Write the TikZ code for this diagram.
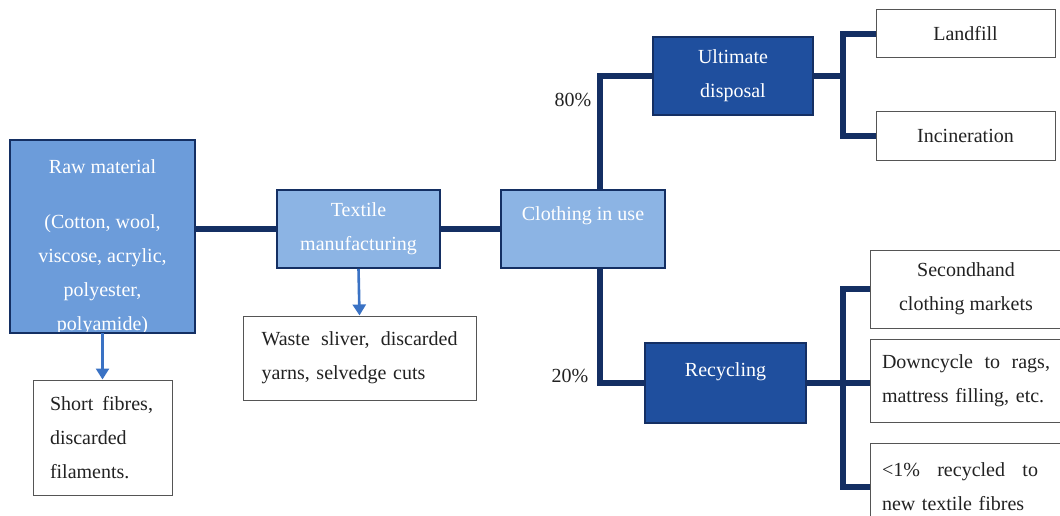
\documentclass[tikz,border=0pt]{standalone}
\usepackage{fontspec}
\setmainfont{Liberation Serif}
\usetikzlibrary{arrows.meta}
\definecolor{navy}{HTML}{142F63}
\definecolor{dkfill}{HTML}{1F4F9E}
\definecolor{ltfill}{HTML}{8CB4E4}
\definecolor{rawfill}{HTML}{6C9CDA}
\definecolor{arrowblue}{HTML}{3A72C4}
\definecolor{boxgray}{HTML}{555555}
\definecolor{txt}{HTML}{222222}
\newcommand{\spreadline}[2]{\hbox to #1{#2}}
\begin{document}
\begin{tikzpicture}[x=1pt,y=-1pt,
  every node/.style={font=\fontsize{20}{34}\selectfont, inner sep=0pt},
  bluebox/.style={draw=navy, line width=1.6pt, text=white, align=center},
  darkbox/.style={bluebox, fill=dkfill},
  lightbox/.style={bluebox, fill=ltfill},
  rawbox/.style={fill=rawfill},
  whitebox/.style={draw=boxgray, line width=1pt, fill=white, text=txt},
  conn/.style={draw=navy, line width=6pt, line join=miter},
  wastearrow/.style={draw=arrowblue, line width=2.6pt, -{Triangle[width=13pt,length=11pt]}},
  pct/.style={text=txt}]
\useasboundingbox (0,0) rectangle (1060,516);
% blue process boxes
\node[rawbox, minimum width=185pt, minimum height=193pt] (raw) at (102.5,236.5) {};
\begin{scope}
\clip ([xshift=0.8pt,yshift=0.8pt]raw.south west) rectangle ([xshift=-0.8pt,yshift=-0.8pt]raw.north east);
\node[text=white, align=center] (rawtext) at (102.5,247) {Raw material\\[21pt](Cotton, wool,\\viscose, acrylic,\\polyester,\\polyamide)};
\end{scope}
\draw[draw=navy, line width=1.6pt] (raw.south west) rectangle (raw.north east);
\node[lightbox, minimum width=163pt, minimum height=78pt] (tex) at (358.5,229) {Textile\\manufacturing};
\node[lightbox, minimum width=164pt, minimum height=78pt, text height=14pt, text depth=32pt] (cloth) at (583,229) {Clothing in use};
\node[darkbox, minimum width=160pt, minimum height=78pt] (ult) at (733,76) {Ultimate\\disposal};
\node[darkbox, minimum width=161pt, minimum height=80pt, text height=14pt, text depth=28pt] (rec) at (725.5,383) {Recycling};
% white outcome boxes
\node[whitebox, minimum width=139pt, minimum height=115pt, text width=105pt, align=left] (short) at (102.5,437.5) {\spreadline{103pt}{Short\hfill fibres,}\\discarded\\filaments.};
\node[whitebox, minimum width=233pt, minimum height=84pt, text width=196pt, align=left] (waste) at (359.5,358) {\spreadline{196pt}{Waste\hfill sliver,\hfill discarded}\\yarns, selvedge cuts};
\node[whitebox, minimum width=179pt, minimum height=48pt] (land) at (965.5,34) {Landfill};
\node[whitebox, minimum width=179pt, minimum height=48pt] (inc) at (965.5,136) {Incineration};
\node[whitebox, minimum width=192pt, minimum height=78pt, align=center] (second) at (966,289) {Secondhand\\clothing markets};
\node[whitebox, minimum width=192pt, minimum height=83pt, text width=168pt, align=left] (down) at (966,380.5) {\spreadline{168pt}{Downcycle\hfill to\hfill rags,}\\mattress filling, etc.};
\node[whitebox, minimum width=192pt, minimum height=88pt, text width=168pt, align=left] (third) at (966,487) {\spreadline{156pt}{<1\%\hfill recycled\hfill to}\\new textile fibres};
% percentages
\node[pct] (p80) at (573,100) {80\%};
\node[pct] (p20) at (570,376) {20\%};
% main flow connectors
\draw[conn] (raw.east |- tex.west) -- (tex.west);
\draw[conn] (tex.east) -- (cloth.west |- tex.east);
\draw[conn] ([xshift=17pt]cloth.north) |- (ult.west);
\draw[conn] ([xshift=17pt]cloth.south) |- (rec.west);
\draw[conn] (ult.east) -- ([xshift=29pt]ult.east);
\draw[conn] (land.west) -| ([xshift=29pt]ult.east) |- (inc.west);
\draw[conn] (rec.east) -- (down.west |- rec.east);
\draw[conn] (second.west) -| ([xshift=36pt]rec.east) |- (third.west);
% waste arrows
\draw[wastearrow] (raw.south) -- (short.north);
\draw[wastearrow] (tex.south) -- (waste.north);
\end{tikzpicture}
\end{document}
